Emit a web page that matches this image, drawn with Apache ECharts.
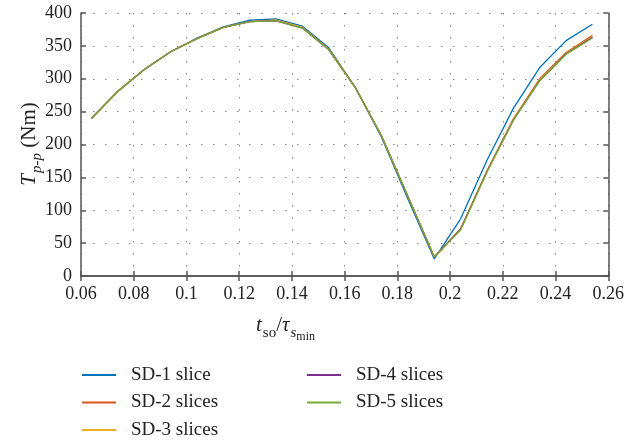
<!DOCTYPE html>
<html>
<head>
<meta charset="utf-8">
<script src="https://cdn.jsdelivr.net/npm/echarts@6/dist/echarts.min.js"></script>
<style>
html,body{margin:0;padding:0;background:#fff;}
#chart{width:627px;height:440px;}
</style>
</head>
<body>
<div id="chart"></div>
<script>
// Slot-opening ratio t_so / tau_s_min
var ratio = [0.064, 0.074, 0.084, 0.094, 0.104, 0.114, 0.124, 0.134, 0.144, 0.154,
             0.164, 0.174, 0.184, 0.194, 0.204, 0.214, 0.224, 0.234, 0.244, 0.254];

// Peak-to-peak torque (Nm) for each step-skew configuration
var sd1 = [240, 281, 314, 341, 362, 379, 389, 391, 380, 347, 287, 211, 117, 26, 87, 176, 255, 317, 358, 383];
var sd2 = [240, 281, 314, 341, 361, 378, 387, 389, 378, 345, 287, 213, 121, 29, 72, 160, 239, 300, 340, 366];
var sd3 = [240, 281, 314, 341, 361, 378, 387, 389, 378, 345, 287, 213, 121, 29, 71, 159, 238, 298, 339, 364];
var sd4 = [240, 281, 314, 341, 361, 378, 387, 388, 377, 344, 287, 213, 121, 29, 71, 159, 237, 297, 338, 363];
var sd5 = [240, 281, 314, 341, 361, 378, 387, 388, 377, 344, 287, 213, 121, 29, 70, 158, 237, 297, 337, 362];

var seriesNames = ['SD-1 slice', 'SD-2 slices', 'SD-3 slices', 'SD-4 slices', 'SD-5 slices'];
var seriesData = [sd1, sd2, sd3, sd4, sd5];
var colors = ['#0072BD', '#D95319', '#EDB120', '#7E2F8E', '#77AC30'];

var FONT = '"Liberation Serif", "DejaVu Serif", serif';
var AXIS_COLOR = '#555';

function pairs(xs, ys) {
  return xs.map(function (x, i) { return [x, ys[i]]; });
}

var chart = echarts.init(document.getElementById('chart'), null, {renderer: 'canvas'});

var grid = {left: 81, right: 18, top: 13, bottom: 164};

var tickStyle = {inside: true, length: 5, lineStyle: {color: AXIS_COLOR, width: 1.5}};
var gridDots = {show: true, lineStyle: {color: '#888', width: 1, type: [1.5, 10.5]}};

var legendText = {fontFamily: FONT, fontSize: 19, color: '#222', lineHeight: 20, padding: [0, 0, 0, 10]};

var option = {
  animation: false,
  backgroundColor: '#fff',
  color: colors,
  grid: grid,
  xAxis: [{
    type: 'value', min: 0.06, max: 0.26, interval: 0.02,
    axisLine: {show: true, lineStyle: {color: AXIS_COLOR, width: 1.5}},
    axisTick: tickStyle,
    axisLabel: {
      color: '#222', fontFamily: FONT, fontSize: 18, margin: 9,
      formatter: function (v) { return String(+v.toFixed(2)); }
    },
    splitLine: gridDots
  }, {
    type: 'value', position: 'top', min: 0.06, max: 0.26, interval: 0.02,
    axisLine: {show: true, lineStyle: {color: AXIS_COLOR, width: 1.5}},
    axisTick: tickStyle, axisLabel: {show: false}, splitLine: {show: false}
  }],
  yAxis: [{
    type: 'value', min: 0, max: 400, interval: 50,
    axisLine: {show: true, lineStyle: {color: AXIS_COLOR, width: 1.5}},
    axisTick: tickStyle,
    axisLabel: {color: '#222', fontFamily: FONT, fontSize: 18, margin: 9},
    splitLine: gridDots
  }, {
    type: 'value', position: 'right', min: 0, max: 400, interval: 50,
    axisLine: {show: true, lineStyle: {color: AXIS_COLOR, width: 1.5}},
    axisTick: tickStyle, axisLabel: {show: false}, splitLine: {show: false}
  }],
  legend: [{
    orient: 'vertical', left: 82, top: 365, padding: 0,
    data: seriesNames.slice(0, 3),
    icon: 'rect', itemWidth: 34, itemHeight: 2, itemGap: 7.5,
    textStyle: legendText
  }, {
    orient: 'vertical', left: 307, top: 365, padding: 0,
    data: seriesNames.slice(3),
    icon: 'rect', itemWidth: 34, itemHeight: 2, itemGap: 7.5,
    textStyle: legendText
  }],
  graphic: [{
    // y-axis title: T_{p-p} (Nm)
    type: 'text', x: 30, y: 144, rotation: Math.PI / 2,
    style: {
      text: '{t|T}{s|p-p}{n| (Nm)}',
      align: 'center', verticalAlign: 'middle',
      rich: {
        t: {fontFamily: FONT, fontSize: 21, fontStyle: 'italic', fill: '#222', lineHeight: 22, verticalAlign: 'top'},
        s: {fontFamily: FONT, fontSize: 15, fontStyle: 'italic', fill: '#222', lineHeight: 14, verticalAlign: 'top', padding: [11, 0, 0, 1]},
        n: {fontFamily: FONT, fontSize: 21, fill: '#222', lineHeight: 22, verticalAlign: 'top'}
      }
    }
  }, {
    // x-axis title: t_so / tau_{s_min}
    type: 'text', left: 256, top: 315,
    style: {
      text: '{t|t}{s|so}{n|/}{t|τ}{ss|s}{sss|min}',
      rich: {
        t: {fontFamily: FONT, fontSize: 21, fontStyle: 'italic', fill: '#222', lineHeight: 22, verticalAlign: 'top'},
        n: {fontFamily: FONT, fontSize: 21, fill: '#222', lineHeight: 22, verticalAlign: 'top'},
        s: {fontFamily: FONT, fontSize: 15, fill: '#222', lineHeight: 14, verticalAlign: 'top', padding: [11, 0, 0, 1]},
        ss: {fontFamily: FONT, fontSize: 15, fontStyle: 'italic', fill: '#222', lineHeight: 14, verticalAlign: 'top', padding: [11, 0, 0, 1]},
        sss: {fontFamily: FONT, fontSize: 12, fill: '#222', lineHeight: 12, verticalAlign: 'top', padding: [16, 0, 0, 0]}
      }
    }
  }],
  series: seriesNames.map(function (name, i) {
    return {
      name: name, type: 'line', xAxisIndex: 0, yAxisIndex: 0,
      data: pairs(ratio, seriesData[i]),
      symbol: 'none', showSymbol: false,
      lineStyle: {width: 1.3, color: colors[i]},
      itemStyle: {color: colors[i]},
      z: 2 + i
    };
  })
};

chart.setOption(option);
</script>
</body>
</html>
